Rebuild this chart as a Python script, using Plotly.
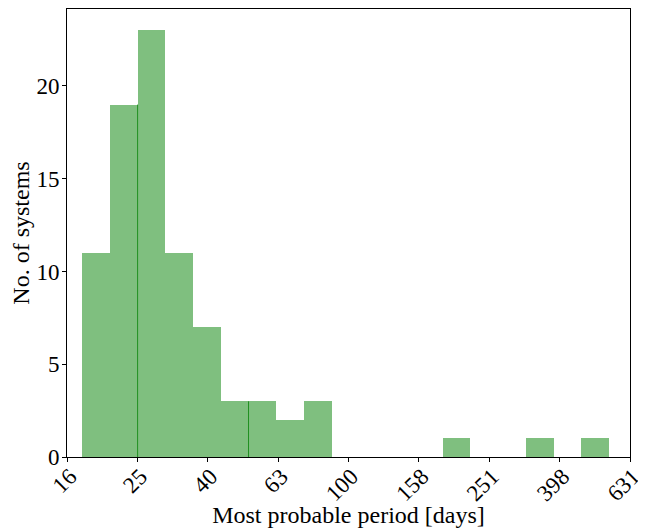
import numpy as np
import plotly.graph_objects as go

# log10(period) bin range and counts
log_lo = 1.243
log_hi = 2.7405
counts = [11, 19, 23, 11, 7, 3, 3, 2, 3, 0, 0, 0, 0, 1, 0, 0, 1, 0, 1]
tick_vals = [1.2, 1.4, 1.6, 1.8, 2.0, 2.2, 2.4, 2.6, 2.8]
tick_text = ["16", "25", "40", "63", "100", "158", "251", "398", "631"]
seam_edges = [2, 6]

edges = np.linspace(log_lo, log_hi, len(counts) + 1)
width = edges[1] - edges[0]
centers = (edges[:-1] + edges[1:]) / 2

fig = go.Figure()
fig.add_trace(go.Bar(
    x=centers, y=counts, width=width,
    marker=dict(color="rgba(0,128,0,0.5)", line=dict(width=0)),
    showlegend=False,
))
for i in seam_edges:
    h = min(counts[i - 1], counts[i])
    fig.add_trace(go.Scatter(
        x=[edges[i], edges[i]], y=[0, h], mode="lines",
        line=dict(color="rgba(0,128,0,0.75)", width=1),
        showlegend=False, hoverinfo="skip",
    ))

font = "Liberation Serif, Times New Roman, serif"
# page body has an 8px margin, so the figure is 638x520 placed at (8, 8)
fig.update_layout(
    width=638, height=520,
    margin=dict(l=59, r=16, t=1, b=71, autoexpand=False),
    plot_bgcolor="white", paper_bgcolor="white",
    bargap=0,
    font=dict(family=font, size=24, color="black"),
)
fig.update_xaxes(
    range=[1.2, 2.8], tickvals=tick_vals, ticktext=tick_text,
    tickangle=-45, ticks="outside", ticklen=4, tickcolor="black",
    tickfont=dict(size=23), ticklabelshift=3, ticklabelstandoff=-8,
    ticklabeloverflow="allow", automargin=True,
    showline=True, linecolor="black", linewidth=1, mirror=True,
    showgrid=False, zeroline=False,
    title=dict(text="Most probable period [days]", font=dict(size=24), standoff=6),
)
fig.update_yaxes(
    range=[0, 24.15], tickvals=[0, 5, 10, 15, 20],
    ticks="outside", ticklen=4, tickcolor="black",
    tickfont=dict(size=23), automargin=True, ticklabelstandoff=-2,
    showline=True, linecolor="black", linewidth=1, mirror=True,
    showgrid=False, zeroline=False,
    title=dict(text="No. of systems", font=dict(size=24), standoff=4),
)
fig.write_html("out.html")
